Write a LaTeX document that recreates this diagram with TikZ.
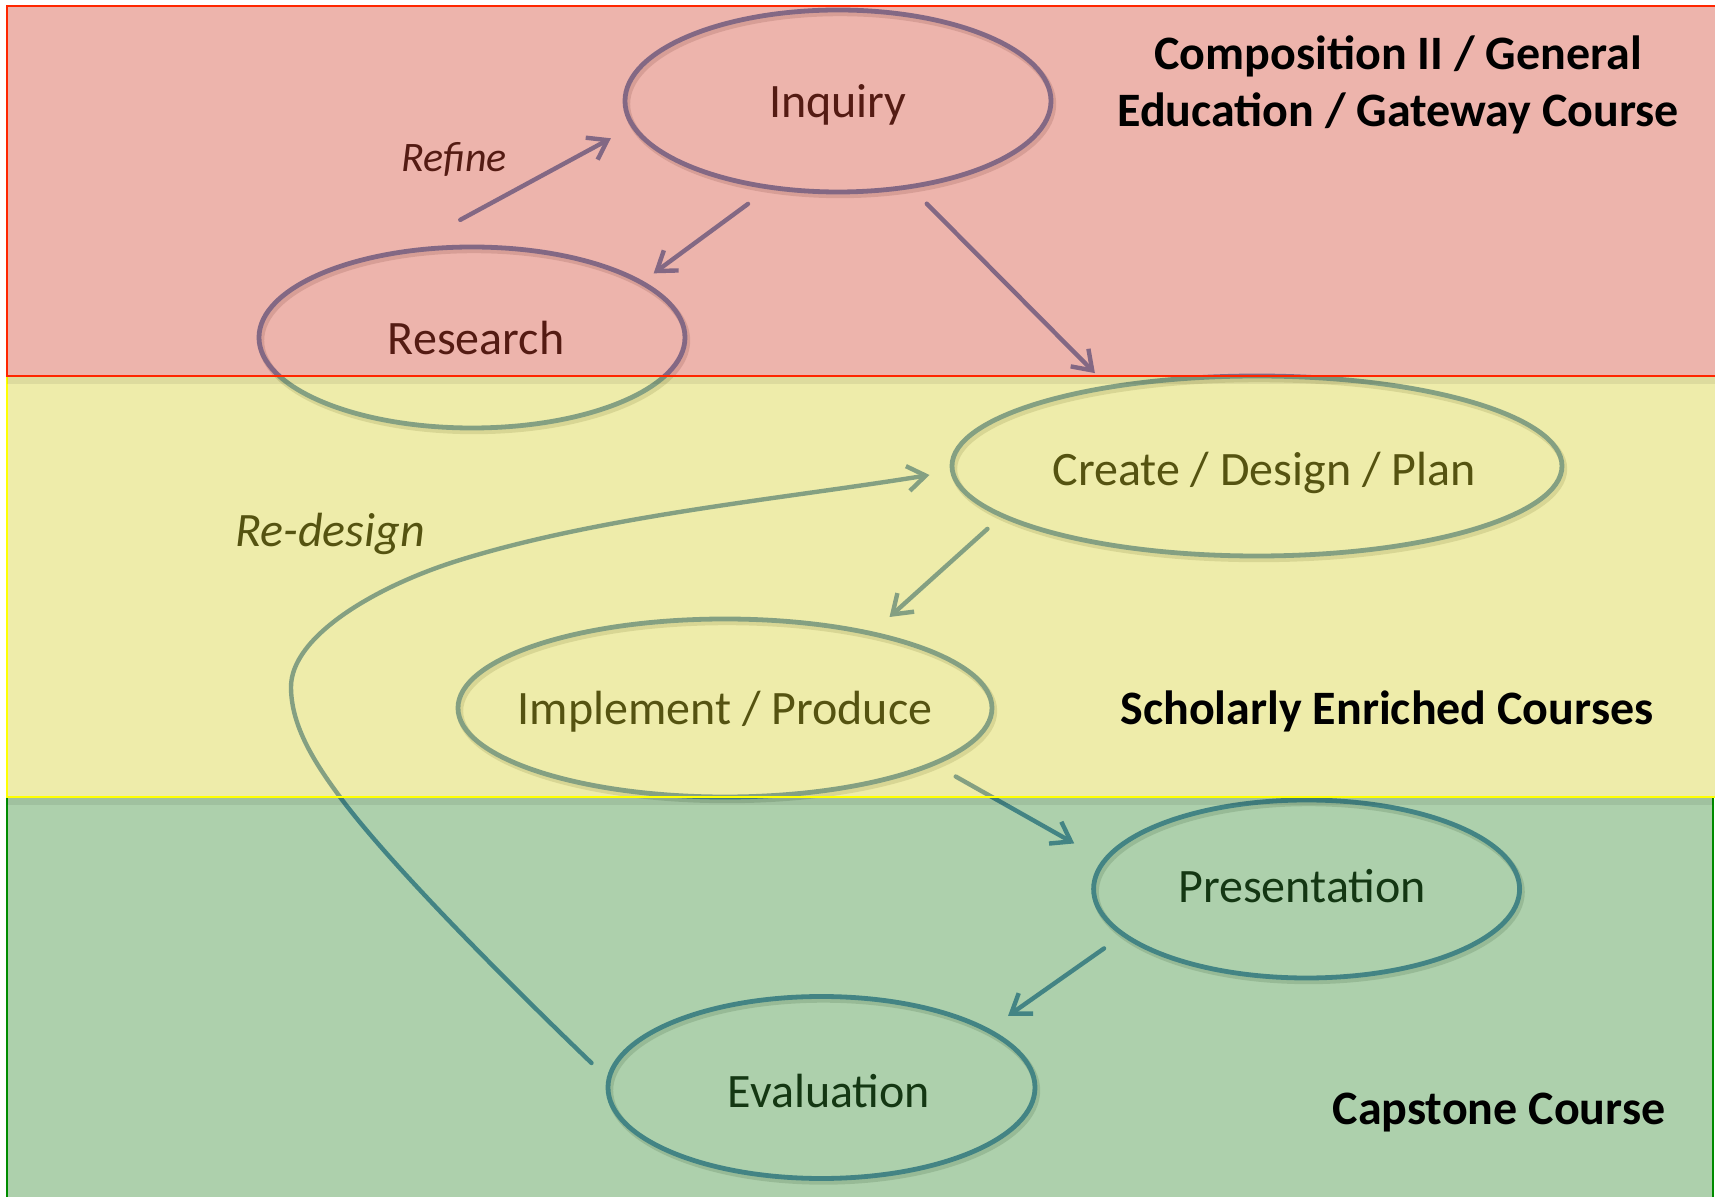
\documentclass[tikz,border=0pt]{standalone}
\usepackage{fontspec}
\setmainfont{Carlito}
\usetikzlibrary{arrows.meta,calc,shapes.geometric}

\definecolor{lineblue}{RGB}{79,129,189}
\definecolor{bandred}{RGB}{210,68,48}
\definecolor{bandyellow}{RGB}{213,208,43}
\definecolor{bandgreen}{RGB}{50,138,48}
\definecolor{edgered}{RGB}{255,38,0}
\definecolor{edgeyellow}{RGB}{255,255,0}
\definecolor{edgegreen}{RGB}{0,140,0}

\begin{document}
\begin{tikzpicture}[x=0.5pt,y=-0.5pt,
  stage/.style={ellipse, draw=lineblue, line width=2.4pt, inner sep=0pt, outer sep=0pt},
  stageshadow/.style={ellipse, draw=black, draw opacity=0.14, line width=3.2pt, inner sep=0pt},
  stagetext/.style={anchor=base, inner sep=0pt, font=\fontsize{24}{28}\selectfont},
  loopnote/.style={anchor=base, inner sep=0pt, font=\itshape\fontsize{24}{28}\selectfont},
  flow/.style={draw=lineblue, line width=2.2pt, line cap=round,
    -{Straight Barb[length=9pt,width=12.5pt,line width=2.2pt]}},
  band/.style={fill opacity=0.4, line width=1pt},
  bandtitle/.style={inner sep=0pt, align=center, font=\bfseries\fontsize{24}{28.5}\selectfont}
]
\useasboundingbox (0,0) rectangle (1715,1197);
\fill[white] (0,0) rectangle (1715,1197);

% soft shadows under the stage outlines
\foreach \cx/\cy/\w/\h in {838/101/213/91, 472/337.5/213/90.5, 1257/466/305/90,
    725/708/267/89, 1306.6/889/213/89, 821.5/1087.5/213.5/91}
  \node[stageshadow, minimum width=\w pt, minimum height=\h pt] at (\cx+2,\cy+3) {};

% stages of the cycle
\node[stage, minimum width=213pt, minimum height=91pt]   (inq) at (838,101)    {};
\node[stage, minimum width=213pt, minimum height=90.5pt] (res) at (472,337.5)  {};
\node[stage, minimum width=305pt, minimum height=90pt]   (cre) at (1257,466)   {};
\node[stage, minimum width=267pt, minimum height=89pt]   (imp) at (725,708)    {};
\node[stage, minimum width=213pt, minimum height=89pt]   (pre) at (1306.6,889) {};
\node[stage, minimum width=213.5pt, minimum height=91pt] (eva) at (821.5,1087.5) {};

\node[stagetext] (inqT) at (838,118)   {Inquiry};
\node[stagetext] (resT) at (476,355)   {Research};
\node[stagetext] (creT) at (1264,486)  {Create / Design / Plan};
\node[stagetext] (impT) at (725,725)   {Implement / Produce};
\node[stagetext] (preT) at (1302,903)  {Presentation};
\node[stagetext] (evaT) at (829,1107)  {Evaluation};

% forward arrows
\draw[flow, shorten <=34pt, shorten >=12.75pt] (res.130.1) -- (inq.187.25);
\draw[flow, shorten <=14pt, shorten >=7.75pt]  (inq.232.6) -- (res.18.2);
\draw[flow, shorten <=12pt, shorten >=10pt]    (inq.310.1) -- (cre.152.7);
\draw[flow, shorten <=10pt, shorten >=12.35pt] (cre.191.5) -- (imp.27);
\draw[flow, shorten <=13pt, shorten >=17.5pt]  (imp.345.5) -- (pre.172.8);
\draw[flow, shorten <=12pt, shorten >=12.5pt]  (pre.194.8) -- (eva.19.3);

% loop back from evaluation to design
\coordinate (rdS) at ($(eva.west)+(-16.5,-24.5)$);
\coordinate (rdE) at ($(cre.west)+(-22.5,9)$);
\draw[flow] (rdS) .. controls (526.6,1000.6) and (393.5,869.4) .. (340,797)
  .. controls (316.2,764.8) and (291,727) .. (291,687)
  .. controls (291,637) and (374,586.6) .. (460,560)
  .. controls (603.3,515.6) and (781.5,499) .. (rdE);

\node[loopnote] (refT) at (454,172) {\fontsize{21}{25}\selectfont Refine};
\node[loopnote] (rdT)  at (330,547) {Re-design};

% course bands laid over the cycle
\filldraw[band, fill=bandgreen, draw=edgegreen]   (7,797) rectangle (1713,1205);
\filldraw[band, fill=bandyellow, draw=edgeyellow] (7,376) rectangle (1720,797);
\fill[black, opacity=0.07] (7,377) rectangle (1715,384);
\fill[black, opacity=0.07] (7,798) rectangle (1713,805);
\filldraw[band, fill=bandred, draw=edgered]       (7,6)   rectangle (1720,376);
\draw[edgeyellow, line width=1pt] (7,797) -- (1713,797);

\node[bandtitle, anchor=base] (gate) at (1398,126.7) {Composition II / General\\Education / Gateway Course};
\node[bandtitle, anchor=base] (schol) at (1387,725) {Scholarly Enriched Courses};
\node[bandtitle, anchor=base] (cap) at (1499,1124) {Capstone Course};
\end{tikzpicture}
\end{document}
